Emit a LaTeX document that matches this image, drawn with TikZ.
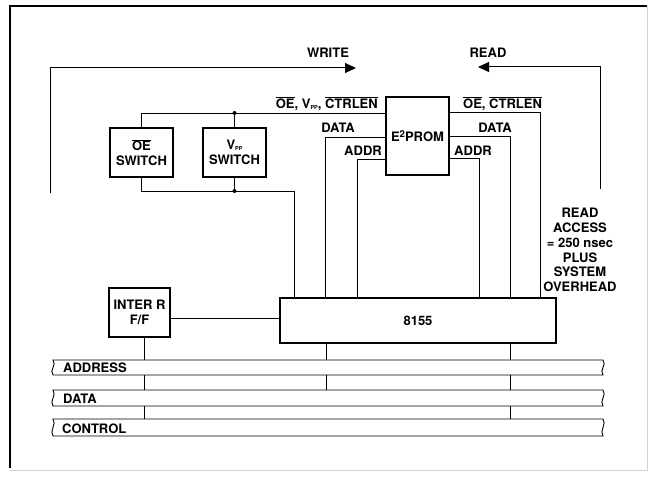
\documentclass[tikz,border=0pt]{standalone}
\usepackage{fontspec}
\setmainfont{TeX Gyre Heros}
\usetikzlibrary{arrows.meta,calc}
\newcommand\ovl[1]{$\overline{\mbox{#1}}$}
\newcommand\vpp{V\raisebox{-0.15ex}{\fontsize{5.5}{6}\selectfont PP}}
\newcommand\busshape[2]{\draw[bus] (53,#1) -- (603,#1) .. controls (607,#1+5) and (599,#2-5) .. (603,#2) -- (53,#2) .. controls (49,#2-5) and (57,#1+5) .. cycle;}
\begin{document}
\begin{tikzpicture}[x=1pt,y=-1pt,
  font=\bfseries\fontsize{13}{14.5}\selectfont,
  box/.style={draw, line width=1.2pt, inner sep=0pt, align=center},
  wire/.style={line width=0.8pt},
  lbl/.style={inner sep=0pt},
  dotm/.style={circle, fill, inner sep=0pt, minimum size=4pt},
  bus/.style={line width=0.9pt},
  flow/.style={line width=1pt, -{Triangle[length=11pt,width=10pt]}}]
\useasboundingbox (0,0) rectangle (652,476);

% frame
\draw[line width=2pt] (10,468) -- (10,6) -- (647,6);
\draw[gray!35, line width=0.6pt] (647,6) -- (647,470) -- (10,470);

% boxes
\node[box, minimum width=63pt, minimum height=49pt] (oesw) at (141.5,152.5) {\ovl{OE}\\SWITCH};
\node[box, minimum width=63pt, minimum height=49pt] (vppsw) at (234.5,152.5) {\vpp\\SWITCH};
\node[box, minimum width=63pt, minimum height=78pt] (eprom) at (417.5,136) {E\raisebox{0.55ex}{\fontsize{9.5}{10}\selectfont 2}PROM};
\node[box, minimum width=61pt, minimum height=49pt] (inter) at (139.5,312.5) {INTER R\\F/F};
\node[box, minimum width=276pt, minimum height=45pt] (chip) at (418,320.5) {8155};

% write / read loops
\coordinate (wS) at (50,193);
\coordinate (wC) at (50,68);
\coordinate (wE) at (356,68);
\draw[flow] (wS) -- (wC) -- (wE);
\coordinate (rS) at (600,189);
\coordinate (rC) at (600,67);
\coordinate (rE) at (478,67);
\draw[flow] (rS) -- (rC) -- (rE);
\node[lbl] (wlbl) at (328,53) {WRITE};
\node[lbl] (rlbl) at (488,53) {READ};

% control line to E2PROM
\coordinate (yOE) at (0,113);
\draw[wire] (oesw.north) |- (eprom.west |- yOE);
\draw[wire] (vppsw.north) -- (vppsw.north |- yOE) node[dotm] (d1) {};
\node[lbl, anchor=base east] (ctl1) at (378,108) {\ovl{OE}, \vpp, \ovl{CTRLEN}};

% switches to 8155
\coordinate (swdrop) at (294,191);
\draw[wire] (oesw.south) |- (swdrop) -- (swdrop |- chip.north);
\draw[wire] (vppsw.south) -- (vppsw.south |- swdrop) node[dotm] (d2) {};

% left data / addr
\coordinate (ld) at (325,137);
\coordinate (la) at (357,159);
\draw[wire] (eprom.west |- ld) -- (ld) -- (ld |- chip.north);
\draw[wire] (eprom.west |- la) -- (la) -- (la |- chip.north);
\node[lbl] (ldl) at (338,128) {DATA};
\node[lbl] (lal) at (363,151) {ADDR};

% right side
\coordinate (ro) at (540,112);
\coordinate (rd) at (510.5,136);
\coordinate (ra) at (479,158);
\draw[wire] (eprom.east |- ro) -- (ro) -- (ro |- chip.north);
\draw[wire] (eprom.east |- rd) -- (rd) -- (rd |- chip.north);
\draw[wire] (eprom.east |- ra) -- (ra) -- (ra |- chip.north);
\node[lbl, anchor=base west] (ctl2) at (463,108) {\ovl{OE}, \ovl{CTRLEN}};
\node[lbl] (rdl) at (495,128) {DATA};
\node[lbl] (ral) at (473,151) {ADDR};

% read access note
\node[lbl, align=center, font=\bfseries\fontsize{13}{14.8}\selectfont] (note) at (580,250)
  {READ\\ACCESS\\= 250 nsec\\PLUS\\SYSTEM\\OVERHEAD};

% inter r to 8155
\coordinate (ic) at (0,318);
\draw[wire] (inter.east |- ic) -- (chip.west |- ic);

% buses
\busshape{360}{375}
\busshape{390}{406}
\busshape{419}{436}
\coordinate (aT) at (0,360); \coordinate (aB) at (0,375);
\coordinate (dT) at (0,390); \coordinate (dB) at (0,406);
\coordinate (cT) at (0,419);
\node[lbl, anchor=west] (bA) at (63,368) {ADDRESS};
\node[lbl, anchor=west] (bD) at (63,399) {DATA};
\node[lbl, anchor=west] (bC) at (62,429) {CONTROL};

% bus taps
\coordinate (ix) at (144,0);
\draw[wire] (ix |- inter.south) -- (ix |- aT);
\draw[wire] (ix |- aB) -- (ix |- dT);
\draw[wire] (ix |- dB) -- (ix |- cT);
\coordinate (cx1) at (326,0);
\draw[wire] (cx1 |- chip.south) -- (cx1 |- aT);
\draw[wire] (cx1 |- aB) -- (cx1 |- dT);
\draw[wire] (rd |- chip.south) -- (rd |- aT);
\draw[wire] (rd |- aB) -- (rd |- dT);
\draw[wire] (rd |- dB) -- (rd |- cT);
\end{tikzpicture}
\end{document}
